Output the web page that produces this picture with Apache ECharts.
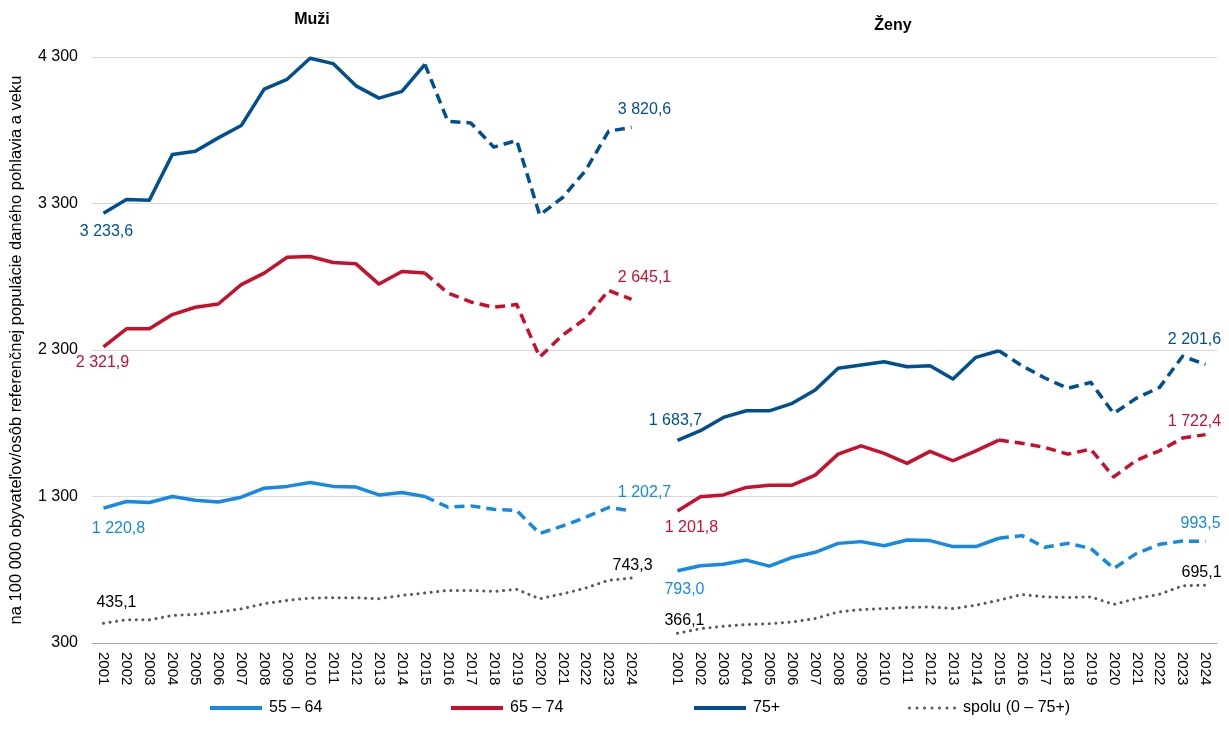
<!DOCTYPE html>
<html>
<head>
<meta charset="utf-8">
<script src="https://cdn.jsdelivr.net/npm/echarts@6/dist/echarts.min.js"></script>
<style>
html, body { margin: 0; padding: 0; background: #fff; }
#chart { width: 1229px; height: 742px; }
</style>
</head>
<body>
<div id="chart"></div>
<script>
const years = ['2001', '2002', '2003', '2004', '2005', '2006', '2007', '2008', '2009', '2010', '2011', '2012',
  '2013', '2014', '2015', '2016', '2017', '2018', '2019', '2020', '2021', '2022', '2023', '2024']

// Muži
const men55 = [1220.8, 1266, 1259, 1300, 1275, 1263, 1295, 1357, 1369, 1396, 1369, 1364,
  1311, 1327, 1300, 1227, 1236, 1213, 1204, 1048, 1099, 1158, 1225, 1202.7]
const men65 = [2321.9, 2445, 2445, 2542, 2592, 2614, 2746, 2825, 2933, 2938, 2897, 2888,
  2750, 2836, 2825, 2689, 2628, 2592, 2610, 2252, 2402, 2515, 2707, 2645.1]
const men75 = [3233.6, 3327, 3323, 3635, 3657, 3748, 3832, 4081, 4148, 4291, 4255, 4103,
  4019, 4065, 4250, 3861, 3850, 3685, 3730, 3221, 3341, 3526, 3793, 3820.6]
const menAll = [435.1, 458, 458, 488, 495, 511, 533, 568, 591, 607, 609, 609,
  602, 625, 641, 659, 659, 652, 666, 602, 636, 675, 728, 743.3]

// Ženy
const women55 = [793.0, 827, 837, 866, 825, 884, 919, 980, 992, 964, 1003, 999,
  958, 958, 1015, 1033, 953, 980, 946, 809, 912, 974, 996, 993.5]
const women65 = [1201.8, 1298, 1311, 1362, 1377, 1377, 1446, 1589, 1646, 1594, 1526, 1608,
  1544, 1612, 1685, 1664, 1635, 1589, 1623, 1434, 1548, 1612, 1699, 1722.4]
const women75 = [1683.7, 1749, 1840, 1885, 1885, 1936, 2027, 2175, 2197, 2220, 2186, 2193,
  2102, 2250, 2295, 2193, 2109, 2038, 2079, 1867, 1972, 2045, 2257, 2201.6]
const womenAll = [366.1, 398, 414, 426, 432, 444, 467, 512, 528, 535, 542, 547,
  535, 558, 592, 631, 615, 611, 615, 563, 604, 633, 690, 695.1]

const seriesNames = ['55 – 64', '65 – 74', '75+', 'spolu (0 – 75+)']
const panelTitles = ['Muži', 'Ženy']
const yAxisName = 'na 100 000 obyvateľov/osôb referenčnej populácie daného pohlavia a veku'

const FONT = 'Liberation Sans, Arial, sans-serif'
const COLORS = {
  '55 – 64': '#1589e3',
  '65 – 74': '#c8102e',
  '75+': '#004f91',
  'spolu (0 – 75+)': '#595959'
}

// label placement for first/last point: [position, offset]
const LABELS = {
  '55 – 64': { men: [['bottom', [15, 7]], ['top', [13, -5]]], women: [['bottom', [7, 5]], ['top', [-5, -4]]] },
  '65 – 74': { men: [['bottom', [-1, 2]], ['top', [13, -8]]], women: [['bottom', [14, 3]], ['top', [-11, 0]]] },
  '75+': { men: [['bottom', [3, 5]], ['top', [13, -4]]], women: [['top', [-2, -6]], ['top', [-11, -11]]] },
  'spolu (0 – 75+)': { men: [['top', [13, -7]], ['top', [1, 1]]], women: [['top', [7, 1]], ['top', [-4, 1]]] }
}

const categories = years.concat([''], years)
const n = years.length
const offsetWomen = n + 1

function fmtNum(v, decimals) {
  let s = v.toFixed(decimals)
  let parts = s.split('.')
  let int = parts[0].replace(/\B(?=(\d{3})+(?!\d))/g, ' ')
  return parts.length > 1 ? int + ',' + parts[1] : int
}

function pointLabel(name, cfg, value) {
  return {
    value: value,
    symbol: 'circle',
    symbolSize: 1,
    itemStyle: { color: 'rgba(0,0,0,0)' },
    label: {
      show: true,
      position: cfg[0],
      offset: cfg[1],
      distance: 5,
      color: name === 'spolu (0 – 75+)' ? '#000' : COLORS[name],
      fontSize: 16,
      fontFamily: FONT,
      formatter: () => fmtNum(value, 1)
    }
  }
}

// 49 slots (2001-2024, gap, 2001-2024), keep indexes [from, to] of each panel
function buildData(name, men, women, from, to) {
  let data = new Array(categories.length).fill(null)
  let lab = LABELS[name]
  for (let i = from; i <= to; i++) {
    data[i] = men[i]
    data[offsetWomen + i] = women[i]
  }
  if (from === 0) {
    data[0] = pointLabel(name, lab.men[0], men[0])
    data[offsetWomen] = pointLabel(name, lab.women[0], women[0])
  }
  if (to === n - 1) {
    data[n - 1] = pointLabel(name, lab.men[1], men[n - 1])
    data[offsetWomen + n - 1] = pointLabel(name, lab.women[1], women[n - 1])
  }
  return data
}

function lineSeries(name, men, women, from, to, type) {
  return {
    name: name,
    type: 'line',
    symbol: 'none',
    showSymbol: true,
    showAllSymbol: true,
    connectNulls: false,
    silent: true,
    animation: false,
    lineStyle: {
      color: COLORS[name],
      width: type === 'dotted' ? 3 : 3.5,
      type: type === 'solid' ? 'solid' : type === 'dashed' ? [10, 6] : [0.1, 6.5],
      cap: type === 'dotted' ? 'round' : 'butt',
      join: 'round'
    },
    itemStyle: { color: COLORS[name] },
    data: buildData(name, men, women, from, to)
  }
}

const groups = [
  [seriesNames[0], men55, women55],
  [seriesNames[1], men65, women65],
  [seriesNames[2], men75, women75]
]

let series = []
groups.forEach(g => {
  series.push(lineSeries(g[0], g[1], g[2], 0, 14, 'solid'))
  series.push(lineSeries(g[0], g[1], g[2], 14, n - 1, 'dashed'))
})
series.push(lineSeries(seriesNames[3], menAll, womenAll, 0, n - 1, 'dotted'))

// dotted legend icon
let dots = []
for (let k = 0; k < 7; k++) {
  let cx = 1.5 + k * 7.5
  dots.push(`M${cx - 1.5},1.5 a1.5,1.5 0 1,0 3,0 a1.5,1.5 0 1,0 -3,0 Z`)
}
const dottedIcon = 'path://' + dots.join(' ')

const legendLefts = [205, 446, 689, 903]
const legends = seriesNames.map((name, i) => {
  let dotted = i === 3
  return {
    data: [{ name: name, icon: dotted ? dottedIcon : 'rect' }],
    left: legendLefts[i],
    top: 695,
    itemWidth: dotted ? 48 : 52,
    itemHeight: dotted ? 3 : 4,
    itemGap: 0,
    selectedMode: false,
    itemStyle: { color: COLORS[name] },
    textStyle: { color: '#000', fontSize: 16, fontFamily: FONT, padding: [0, 0, 0, 2] }
  }
})

const chart = echarts.init(document.getElementById('chart'))
chart.setOption({
  backgroundColor: '#fff',
  animation: false,
  textStyle: { fontFamily: FONT },
  graphic: [
    { type: 'text', x: 312, y: 20, style: { text: panelTitles[0], font: 'bold 16px Liberation Sans, Arial', fill: '#000', textAlign: 'center', textVerticalAlign: 'middle' } },
    { type: 'text', x: 893, y: 26, style: { text: panelTitles[1], font: 'bold 16px Liberation Sans, Arial', fill: '#000', textAlign: 'center', textVerticalAlign: 'middle' } }
  ],
  legend: legends,
  grid: { left: 92, right: 12, top: 57, bottom: 99, containLabel: false, outerBoundsMode: 'none' },
  xAxis: {
    type: 'category',
    data: categories,
    boundaryGap: true,
    axisLine: { lineStyle: { color: '#a6a6a6', width: 1 } },
    axisTick: { show: false },
    axisLabel: { rotate: -90, interval: 0, margin: 9, color: '#000', fontSize: 15 },
    splitLine: { show: false }
  },
  yAxis: {
    type: 'value',
    min: 300,
    max: 4300,
    interval: 1000,
    name: yAxisName,
    nameLocation: 'middle',
    nameRotate: 90,
    nameGap: 67,
    nameTextStyle: { color: '#000', fontSize: 16.5 },
    axisLine: { show: false },
    axisTick: { show: false },
    axisLabel: { color: '#000', fontSize: 16, margin: 14, formatter: v => fmtNum(v, 0) },
    splitLine: { lineStyle: { color: '#d9d9d9', width: 1 } }
  },
  series: series
})
</script>
</body>
</html>
